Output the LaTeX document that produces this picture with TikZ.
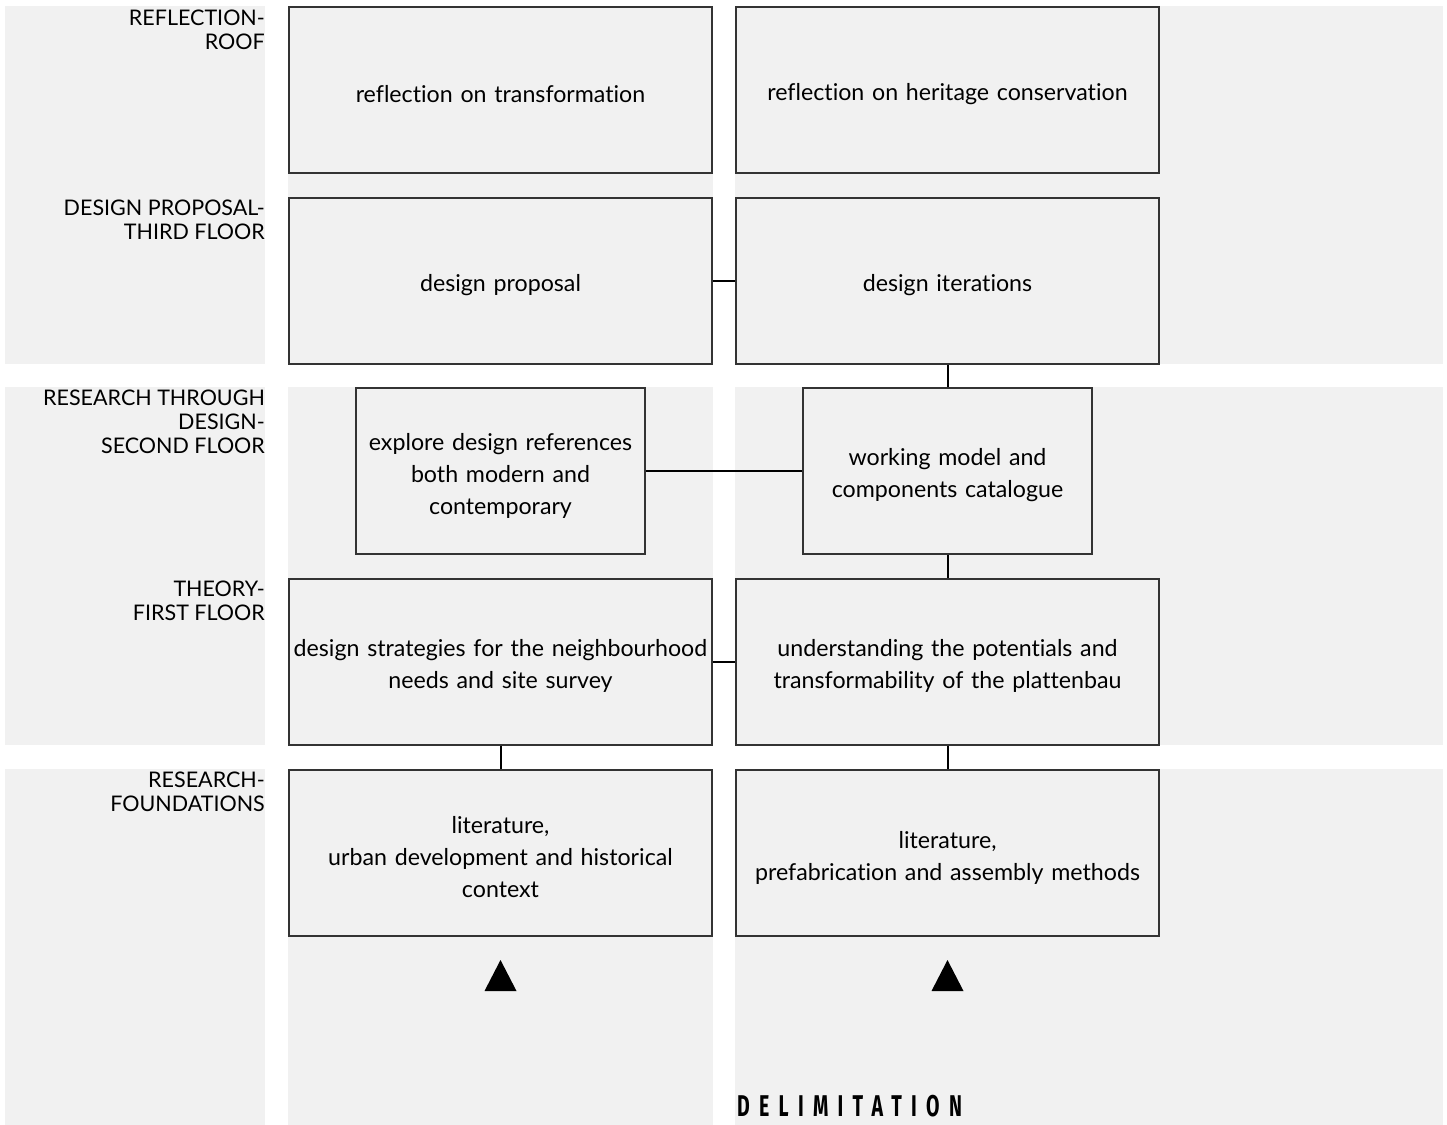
\documentclass[tikz,border=0pt]{standalone}
\usepackage{fontspec}
\setmainfont{Lato}[Ligatures={NoCommon}]
\newfontfamily\delimfont[FakeStretch=0.65,LetterSpace=31]{Fira Sans}
\definecolor{bg}{HTML}{F1F1F1}
\definecolor{edge}{HTML}{333333}
\begin{document}
\begin{tikzpicture}[x=1pt,y=-1pt,
  box/.style={draw=edge, line width=2pt, fill=bg, text width=423pt, minimum height=166pt,
    inner sep=0pt, align=center, font=\fontsize{23.2}{32}\selectfont, text=black,
    execute at begin node={\rule{0pt}{26pt}}},
  smallbox/.style={box, text width=289pt},
  lab/.style={anchor=north east, inner sep=0pt, align=right, font=\fontsize{21.5}{24}\selectfont},
  link/.style={draw=black, line width=2pt},
  tri/.style={fill=black}
]
\useasboundingbox (0,0) rectangle (1447,1124);
\fill[white] (0,0) rectangle (1447,1124);
% background bands
\foreach \ya/\yb in {6/364, 387/745, 769/1130} {
  \fill[bg] (5,\ya) rectangle (265,\yb);
  \fill[bg] (288,\ya) rectangle (713,\yb);
  \fill[bg] (735,\ya) rectangle (1443,\yb);
}
% floor labels
\node[lab] (lroof) at (265,9.5) {REFLECTION-\\ROOF};
\node[lab] (lthird) at (265,200) {DESIGN PROPOSAL-\\THIRD FLOOR};
\node[lab] (lsecond) at (265,390) {RESEARCH THROUGH\\DESIGN-\\SECOND FLOOR};
\node[lab] (lfirst) at (265,581) {THEORY-\\FIRST FLOOR};
\node[lab] (lfound) at (265,772) {RESEARCH-\\FOUNDATIONS};
% boxes
\node[box] (rt) at (500.5,90) {reflection on transformation};
\node[box] (rh) at (947.5,90) {reflection on heritage conservation};
\node[box] (dp) at (500.5,280.5) {design proposal};
\node[box] (di) at (947.5,281) {design iterations};
\node[smallbox] (ex) at (500.5,471) {explore design references\\both modern and\\contemporary};
\node[smallbox] (wm) at (947.5,471) {working model and\\components catalogue};
\node[box] (ds) at (500.5,661.5) {design strategies for the neighbourhood\\needs and site survey};
\node[box] (un) at (947.5,661.5) {understanding the potentials and\\transformability of the plattenbau};
\node[box] (l1) at (500.5,853) {literature,\\urban development and historical\\context};
\node[box] (l2) at (947.5,853) {literature,\\prefabrication and assembly methods};
% connectors
\draw[link] (dp.east) -- (di.west |- dp.east);
\draw[link] (di.south) -- (wm.north);
\draw[link] (ex.east) -- (wm.west);
\draw[link] (wm.south) -- (un.north);
\draw[link] (ds.east) -- (un.west);
\draw[link] (ds.south) -- (l1.north);
\draw[link] (un.south) -- (l2.north);
% triangles
\fill[tri] (500.5,960) -- (516.5,991) -- (484.5,991) -- cycle;
\fill[tri] (947.5,960) -- (963.5,991) -- (931.5,991) -- cycle;
% delimitation
\node[anchor=north west, inner sep=0pt, font={\delimfont\bfseries\fontsize{30}{36}\selectfont}] (delim) at (737,1095) {DELIMITATION};
\end{tikzpicture}
\end{document}
